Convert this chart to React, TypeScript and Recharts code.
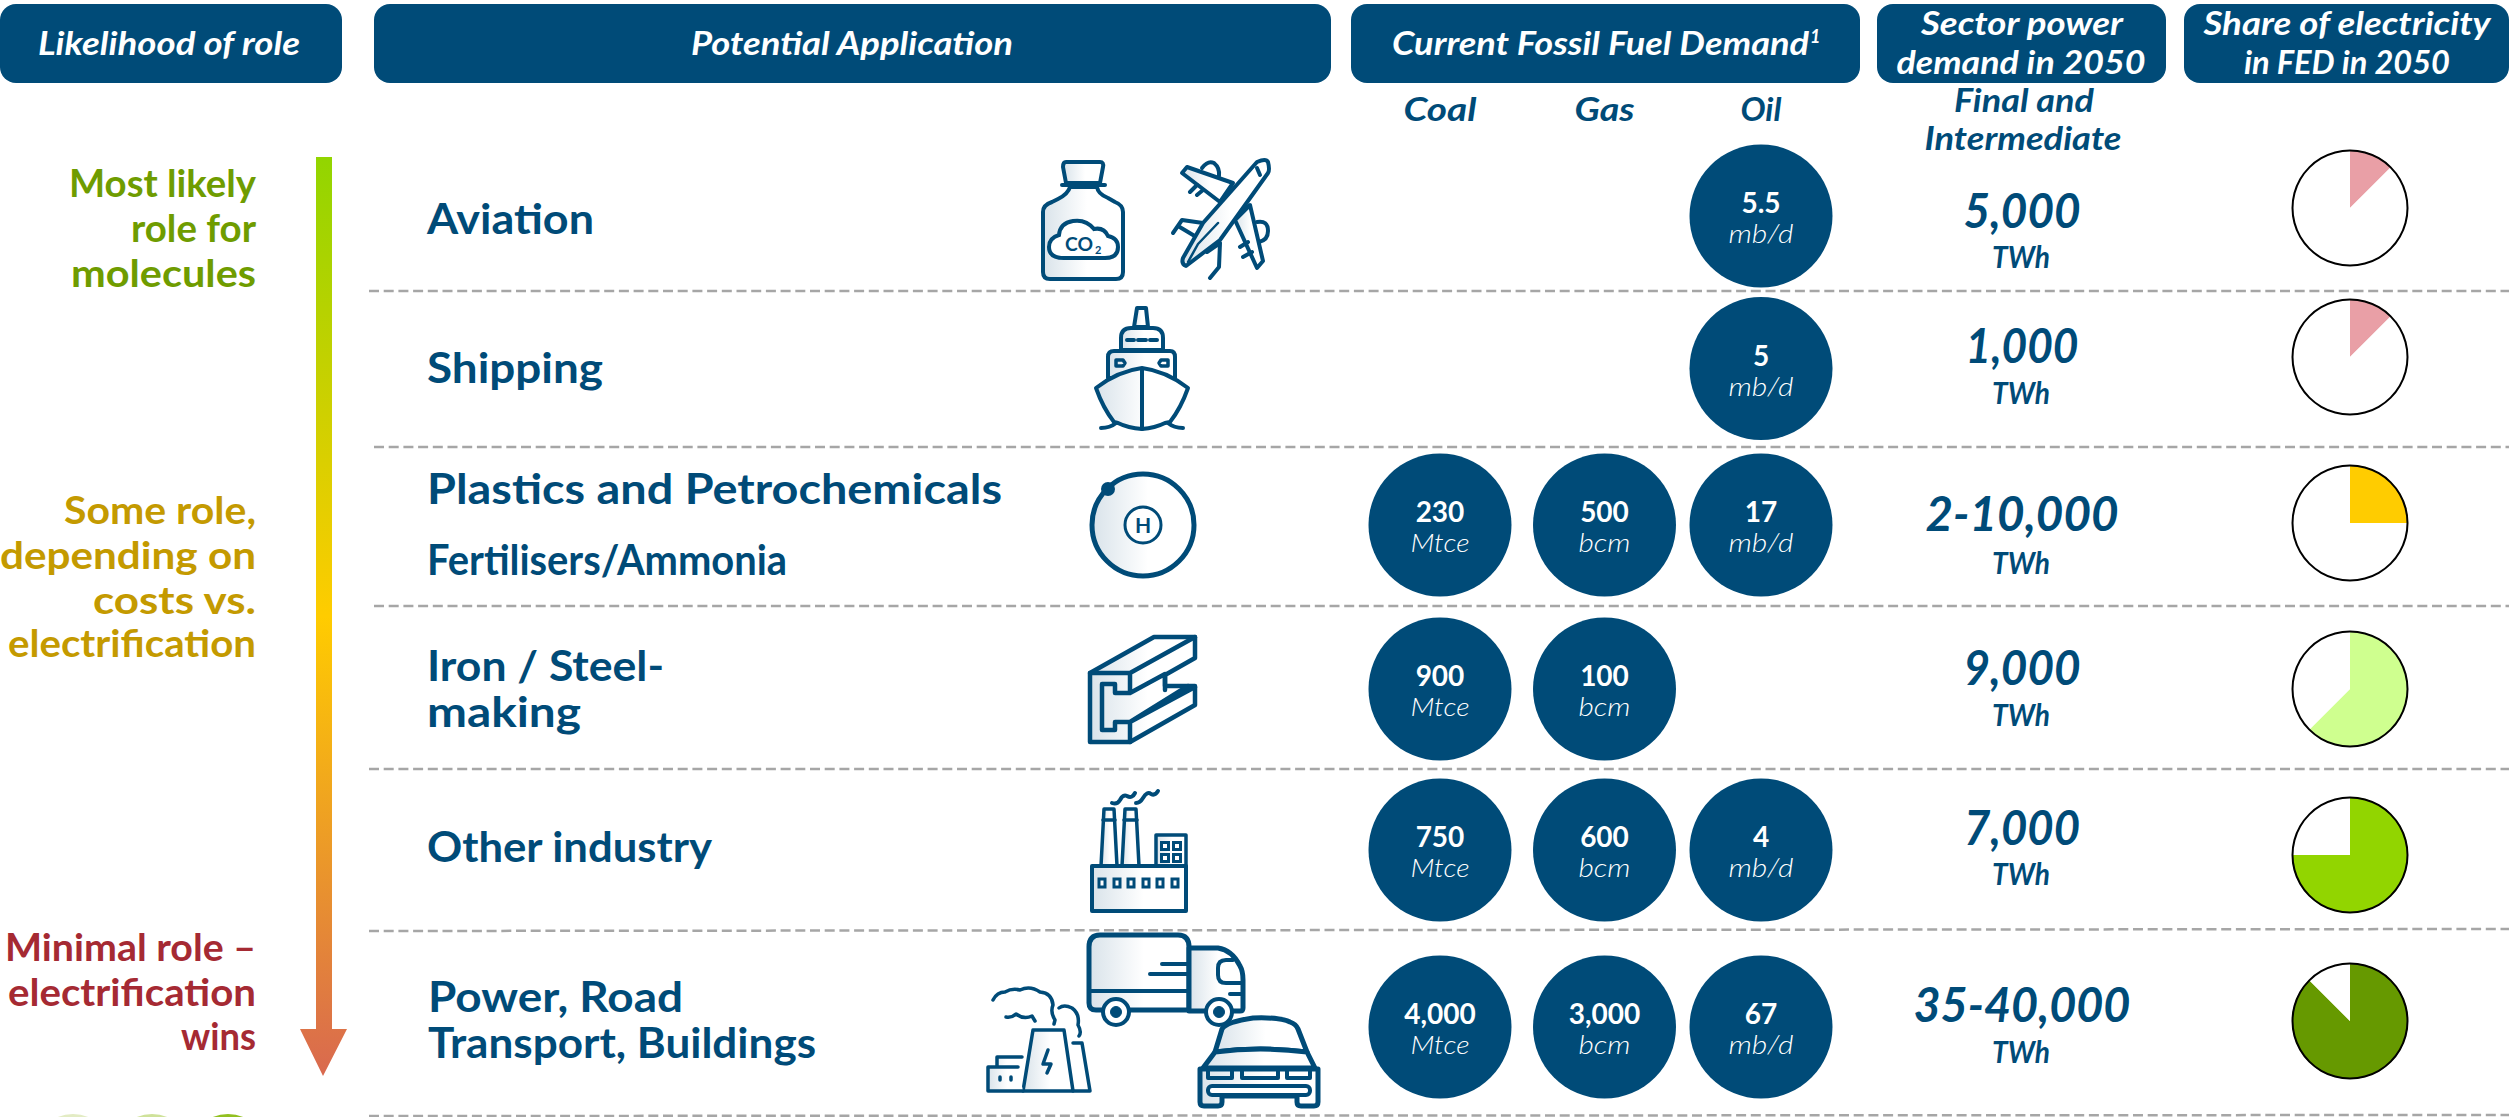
import React from "react";
import { ComposedChart, PieChart, Scatter, Pie, Cell, XAxis, YAxis, ReferenceLine } from "recharts";

const WIDTH = 2509;
const HEIGHT = 1117;
const NAVY = "#004B78";
const FONT = "Lato, 'Open Sans', sans-serif";

// ---- data ----
const applications = ["Aviation", "Shipping", "Plastics and Petrochemicals / Fertilisers/Ammonia", "Iron / Steel-making", "Other industry", "Power, Road Transport, Buildings"];
const fuels = ["Coal", "Gas", "Oil"];
const fuelUnits = ["Mtce", "bcm", "mb/d"];
const coalDemand = ["", "", "230", "900", "750", "4,000"];
const gasDemand = ["", "", "500", "100", "600", "3,000"];
const oilDemand = ["5.5", "5", "17", "", "4", "67"];
const sectorPower = ["5,000", "1,000", "2-10,000", "9,000", "7,000", "35-40,000"];
const electricityShare = [12.5, 12.5, 25, 62.5, 75, 87.5];
const shareColors = ["#E99FA6", "#E99FA6", "#FFCC00", "#CFFF8F", "#92D500", "#669900"];

// ---- layout ----
const fuelX = [1440, 1604.5, 1761];
const fuelLabelW = [73, 60, 41];
const unitW = [59, 52, 65];
const bubbleY = [216, 368.5, 525, 689, 850, 1027];
const sectorY = [228, 363, 531, 685, 845, 1022];
const sectorW = [117, 113, 193, 117, 116, 217];
const twhY = [268, 404, 574, 726, 885, 1063];
const pieX = 2350;
const pieY = [208, 357, 523, 689, 855, 1021];
const dashed = [
  [369, 291, 291],
  [374, 447, 447],
  [374, 606, 606],
  [369, 769, 769],
  [369, 931, 929],
  [369, 1116, 1115],
];

const demandByFuel = [coalDemand, gasDemand, oilDemand];
const bubbles = fuels.flatMap((fuel, f) =>
  applications
    .map((app, r) => ({ fuel, app, x: fuelX[f], y: bubbleY[r], value: demandByFuel[f][r], unit: fuelUnits[f], unitW: unitW[f] }))
    .filter((d) => d.value !== "")
);

// text stretched to the measured width, the original face is much wider than anything installed
function Txt({ x, y, w, size = 38, anchor = "start", fill = NAVY, italic = false, weight = 700, children }: any) {
  return (
    <text
      x={x}
      y={y}
      fontFamily={FONT}
      fontSize={size}
      fontWeight={weight}
      fill={fill}
      textAnchor={anchor}
      fontStyle={italic ? "italic" : "normal"}
      textLength={w}
      lengthAdjust={w ? "spacingAndGlyphs" : undefined}
    >
      {children}
    </text>
  );
}

function Bubble(props: any) {
  const { cx, cy, payload } = props;
  return (
    <g>
      <circle cx={cx} cy={cy} r={71.5} fill={NAVY} />
      <Txt x={cx} y={cy - 3} size={28} anchor="middle" fill="#fff">{payload.value}</Txt>
      <Txt x={cx} y={cy + 27} w={payload.unitW} size={26} anchor="middle" fill="#fff" italic weight={300}>{payload.unit}</Txt>
    </g>
  );
}

function Box({ x, w }: { x: number; w: number }) {
  return <rect x={x} y={4} width={w} height={79} rx={16} fill={NAVY} />;
}

const ic = { fill: "url(#iconFill)", stroke: NAVY, strokeWidth: 4, strokeLinejoin: "round" as const, strokeLinecap: "round" as const };
const il = { fill: "none", stroke: NAVY, strokeWidth: 4, strokeLinejoin: "round" as const, strokeLinecap: "round" as const };

function Bottle() {
  return (
    <g>
      <path d="M1066 162 H1100 Q1104 162 1103 167 L1100 183 H1066 L1063 167 Q1063 162 1066 162Z" {...ic} />
      <path d="M1062 185 H1105" {...il} />
      <path d="M1070 187 Q1068 194 1058 199 L1052 202 Q1043 205 1043 212 V272 Q1043 279 1050 279 H1116 Q1123 279 1123 272 V212 Q1123 205 1115 202 L1108 198 Q1098 194 1097 187Z" {...ic} />
      <path d="M1064 258 H1105 Q1118 258 1118 247 Q1118 238 1108 236 Q1104 227 1094 229 Q1086 219 1073 221 Q1060 223 1059 235 Q1049 238 1049 247 Q1049 258 1064 258Z" fill="#fff" stroke={NAVY} strokeWidth={4} />
      <text x={1065} y={251} textLength={28} lengthAdjust="spacingAndGlyphs" fontFamily={FONT} fontSize={19} fontWeight={700} fill={NAVY}>CO</text>
      <text x={1095} y={254} fontFamily={FONT} fontSize={11} fontWeight={700} fill={NAVY}>2</text>
    </g>
  );
}

function Plane() {
  return (
    <g>
      <path d="M1202 168 Q1208 160 1214 163 Q1220 168 1219 176" {...il} />
      <path d="M1257 222 Q1268 220 1268 231 Q1268 240 1259 242" {...il} />
      <path d="M1182 173 L1187 167 L1233 183 L1220 202Z" {...ic} />
      <path d="M1235 220 L1250 205 L1263 261 L1257 268Z" {...ic} />
      <path d="M1173 233 L1182 220 L1203 223 M1178 226 L1198 238" {...il} />
      <path d="M1207 252 L1220 243 L1219 267 L1210 278" {...il} />
      <path d="M1190 192 L1197 185 M1197 195 L1203 190 M1240 247 L1248 242 M1243 257 L1252 252" {...il} />
      <path d="M1183 258 L1203 223 L1257 162 Q1266 158 1268 162 Q1270 170 1268 173 L1220 240 L1186 266 Q1181 264 1183 258Z" {...ic} />
      <path d="M1188 262 L1198 244 L1218 223" {...il} strokeWidth={2.5} />
      <path d="M1257 168 L1260 175" {...il} />
    </g>
  );
}

function Ship() {
  return (
    <g>
      <path d="M1134 327 L1137 308 H1146 L1148 327Z" {...ic} />
      <path d="M1121 350 V338 Q1121 328 1131 328 H1153 Q1163 328 1163 338 V350Z" {...ic} />
      <path d="M1127 340 H1134 M1138 340 H1146 M1150 340 H1157" {...il} />
      <path d="M1108 378 V357 Q1108 351 1114 351 H1170 Q1175 351 1175 357 V378Z" {...ic} />
      <path d="M1116 360 H1123 L1125 363 L1123 366 H1116Z M1168 360 H1161 L1159 363 L1161 366 H1168Z" {...il} strokeWidth={3.5} />
      <path d="M1096 388 Q1118 371 1142 368 Q1166 371 1188 388 Q1181 408 1170 422 L1165 423 Q1155 428 1142 429 Q1128 428 1118 423 L1114 422 Q1103 408 1096 388Z" {...ic} />
      <path d="M1142 369 V429" {...il} />
      <path d="M1101 428 Q1110 428 1116 423 M1168 423 Q1174 428 1183 428" {...il} />
    </g>
  );
}

function Atom() {
  return (
    <g>
      <circle cx={1143} cy={525} r={51} {...ic} strokeWidth={5} />
      <circle cx={1143} cy={525} r={18} fill="#fff" stroke={NAVY} strokeWidth={3} />
      <circle cx={1108} cy={489} r={7} fill={NAVY} />
      <text x={1143} y={533} textAnchor="middle" fontFamily={FONT} fontSize={21} fontWeight={700} fill={NAVY}>H</text>
    </g>
  );
}

function Beam() {
  return (
    <g>
      <path d="M1090 673 L1154 637 H1195 V658 L1165 675 V686 H1195 V705 L1130 742 H1090Z" {...ic} strokeWidth={4.5} />
      <path
        d="M1090 673 H1130 L1195 637 M1130 673 V693 M1102 684 H1115 V693 H1130 L1165 674 M1102 684 V730 H1115 V722 H1130 L1188 686 M1130 722 L1195 687 M1130 722 V742 M1165 675 V690"
        {...il}
        strokeWidth={4.5}
      />
    </g>
  );
}

function Factory() {
  return (
    <g>
      <path d="M1101 866 L1104 809 H1114 L1117 866Z" {...ic} strokeWidth={3.5} />
      <path d="M1122 866 L1125 809 H1136 L1139 866Z" {...ic} strokeWidth={3.5} />
      <path d="M1103 820 H1115 M1124 820 H1137" {...il} strokeWidth={3.5} />
      <path d="M1112 803 Q1117 805 1120 800 Q1123 794 1127 796 Q1132 799 1135 793" {...il} />
      <path d="M1136 803 Q1140 803 1143 798 Q1147 791 1151 794 Q1155 796 1158 791" {...il} />
      <rect x={1156} y={835} width={30} height={32} {...ic} strokeWidth={3.5} />
      {[1165, 1177].flatMap((x) =>
        [846, 858].map((y) => <rect key={x + "-" + y} x={x - 3.5} y={y - 3.5} width={7} height={7} fill="#fff" stroke={NAVY} strokeWidth={3} />)
      )}
      <rect x={1092} y={866} width={94} height={45} {...ic} />
      {[1102, 1117, 1131, 1146, 1160, 1175].map((x) => (
        <rect key={x} x={x - 3} y={879} width={6} height={8} fill="#fff" stroke={NAVY} strokeWidth={3} />
      ))}
    </g>
  );
}

function Truck() {
  return (
    <g>
      <path d="M1089 947 Q1089 935 1100 935 H1178 Q1189 935 1189 947 V1010 H1096 Q1089 1010 1089 1003Z" {...ic} strokeWidth={5} />
      <path d="M1189 948 H1218 Q1232 950 1240 966 Q1243 971 1243 980 V1008 Q1243 1011 1240 1011 H1189Z" {...ic} strokeWidth={5} />
      <path d="M1089 991 H1189 M1162 964 H1187 M1150 974 H1187 M1230 994 H1242" {...il} strokeWidth={4} />
      <path d="M1233 960 H1226 Q1218 960 1218 968 V975 Q1218 983 1226 983 H1242" {...il} strokeWidth={4} />
      <circle cx={1116} cy={1012} r={13} fill="#fff" stroke={NAVY} strokeWidth={4} />
      <circle cx={1116} cy={1012} r={5.5} fill={NAVY} stroke={NAVY} strokeWidth={1} />
      <circle cx={1219} cy={1012} r={13} fill="#fff" stroke={NAVY} strokeWidth={4} />
      <circle cx={1219} cy={1012} r={5.5} fill={NAVY} stroke={NAVY} strokeWidth={1} />
    </g>
  );
}

function PowerPlant() {
  return (
    <g>
      <path d="M993 1000 Q997 992 1005 992 Q1012 988 1020 990 Q1030 985 1040 992 Q1052 993 1053 1005 Q1050 1012 1055 1020 L1054 1024" {...il} strokeWidth={3.5} />
      <path d="M1006 1017 Q1012 1018 1016 1014 Q1024 1020 1032 1016 L1035 1021" {...il} strokeWidth={3.5} />
      <path d="M1059 1008 Q1064 1004 1072 1008 Q1080 1014 1078 1025 Q1082 1032 1079 1036" {...il} strokeWidth={3.5} />
      <path d="M1023 1091 L1033 1030 H1064 L1073 1091Z" {...ic} strokeWidth={3.5} />
      <path d="M1073 1091 H1090 L1082 1043 H1073" {...il} strokeWidth={3.5} />
      <path d="M1048 1050 L1043 1064 H1051 L1047 1073" {...il} strokeWidth={3.5} />
      <path d="M1022 1057 H997 V1067 M1018 1067 H988 V1091 H1023" {...ic} strokeWidth={3.5} />
      <path d="M1000 1077 V1080 M1011 1077 V1080" {...il} strokeWidth={3.5} />
    </g>
  );
}

function Car() {
  return (
    <g>
      <path d="M1215 1052 L1222 1029 Q1226 1022 1253 1018 Q1280 1017 1290 1022 Q1296 1024 1298 1029 L1307 1052 Q1260 1046 1215 1052Z" {...ic} strokeWidth={5} />
      <path d="M1203 1068 L1215 1052 Q1260 1046 1307 1052 L1315 1068Z" {...ic} strokeWidth={5} />
      <path d="M1200 1069 V1102 Q1200 1106 1204 1106 H1218 Q1222 1106 1222 1102 V1096 H1297 V1102 Q1297 1106 1301 1106 H1314 Q1318 1106 1318 1102 V1069Z" {...ic} strokeWidth={5} />
      <rect x={1208} y={1069} width={24} height={9} {...il} />
      <rect x={1242} y={1069} width={36} height={9} {...il} />
      <rect x={1287} y={1069} width={23} height={9} {...il} />
      <rect x={1208} y={1086} width={102} height={9} rx={4} fill="#fff" stroke={NAVY} strokeWidth={4} />
    </g>
  );
}

export default function App() {
  return (
    <div style={{ position: "absolute", left: 0, top: 0, width: WIDTH, height: HEIGHT, background: "#fff", overflow: "hidden" }}>
      <ComposedChart width={WIDTH} height={HEIGHT} margin={{ top: 0, right: 0, bottom: 0, left: 0 }} data={bubbles}>
        <defs>
          <linearGradient id="arrowFill" x1="0" y1="157" x2="0" y2="1076" gradientUnits="userSpaceOnUse">
            <stop offset="0" stopColor="#92D500" />
            <stop offset="0.5" stopColor="#FFCC00" />
            <stop offset="1" stopColor="#D9694F" />
          </linearGradient>
          <linearGradient id="iconFill" x1="0" y1="0" x2="1" y2="0">
            <stop offset="0" stopColor="#D9E3EA" />
            <stop offset="0.55" stopColor="#FFFFFF" />
            <stop offset="1" stopColor="#FFFFFF" />
          </linearGradient>
        </defs>
        <XAxis type="number" dataKey="x" domain={[0, WIDTH]} hide />
        <YAxis type="number" dataKey="y" domain={[0, HEIGHT]} reversed hide />

        {dashed.map(([x, y1, y2]) => (
          <ReferenceLine key={y1} segment={[{ x, y: y1 }, { x: WIDTH, y: y2 }]} stroke="#A6A6A6" strokeWidth={2.5} strokeDasharray="10 4.7" />
        ))}

        <Box x={0} w={342} />
        <Box x={374} w={957} />
        <Box x={1351} w={509} />
        <Box x={1877} w={289} />
        <Box x={2184} w={325} />
        <Txt x={169} y={55} w={262} size={32} anchor="middle" fill="#fff" italic>Likelihood of role</Txt>
        <Txt x={852} y={55} w={322} size={32} anchor="middle" fill="#fff" italic>Potential Application</Txt>
        <Txt x={1392} y={55} w={417} size={32} fill="#fff" italic>Current Fossil Fuel Demand</Txt>
        <Txt x={1810} y={43} size={18} fill="#fff" italic>1</Txt>
        <Txt x={2022} y={35} w={202} size={32} anchor="middle" fill="#fff" italic>Sector power</Txt>
        <Txt x={2021} y={74} w={249} size={32} anchor="middle" fill="#fff" italic>demand in 2050</Txt>
        <Txt x={2347} y={35} w={287} size={32} anchor="middle" fill="#fff" italic>Share of electricity</Txt>
        <Txt x={2347} y={74} w={206} size={32} anchor="middle" fill="#fff" italic>in FED in 2050</Txt>

        {fuels.map((f, i) => (
          <Txt key={f} x={fuelX[i]} y={121} w={fuelLabelW[i]} size={32} anchor="middle" italic>{f}</Txt>
        ))}
        <Txt x={2024} y={112} w={140} size={32} anchor="middle" italic>Final and</Txt>
        <Txt x={2023} y={150} w={197} size={32} anchor="middle" italic>Intermediate</Txt>

        <path d="M316 157 H332 V1029 H347 L323 1076 L300 1029 H316Z" fill="url(#arrowFill)" />

        <Txt x={256} y={197} w={187} anchor="end" fill="#6F9C00">Most likely</Txt>
        <Txt x={256} y={242} w={125} anchor="end" fill="#6F9C00">role for</Txt>
        <Txt x={256} y={287} w={185} anchor="end" fill="#6F9C00">molecules</Txt>
        <Txt x={256} y={524} w={192} anchor="end" fill="#C49A00">Some role,</Txt>
        <Txt x={256} y={569} w={256} anchor="end" fill="#C49A00">depending on</Txt>
        <Txt x={256} y={614} w={163} anchor="end" fill="#C49A00">costs vs.</Txt>
        <Txt x={256} y={657} w={248} anchor="end" fill="#C49A00">electrification</Txt>
        <Txt x={256} y={961} w={251} anchor="end" fill="#A52A33">Minimal role –</Txt>
        <Txt x={256} y={1006} w={248} anchor="end" fill="#A52A33">electrification</Txt>
        <Txt x={256} y={1050} w={75} anchor="end" fill="#A52A33">wins</Txt>

        <Txt x={427} y={234} w={167} size={42}>Aviation</Txt>
        <Txt x={427} y={383} w={176} size={42}>Shipping</Txt>
        <Txt x={427} y={504} w={575} size={42}>Plastics and Petrochemicals</Txt>
        <Txt x={427} y={575} w={360} size={42}>Fertilisers/Ammonia</Txt>
        <Txt x={427} y={681} w={237} size={42}>Iron / Steel-</Txt>
        <Txt x={427} y={727} w={154} size={42}>making</Txt>
        <Txt x={427} y={862} w={285} size={42}>Other industry</Txt>
        <Txt x={428} y={1012} w={255} size={42}>Power, Road</Txt>
        <Txt x={428} y={1058} w={388} size={42}>Transport, Buildings</Txt>

        <Bottle />
        <Plane />
        <Ship />
        <Atom />
        <Beam />
        <Factory />
        <Truck />
        <PowerPlant />
        <Car />

        <Scatter dataKey="y" data={bubbles} isAnimationActive={false} shape={<Bubble />} />

        {sectorPower.map((s, i) => (
          <g key={s}>
            <Txt x={2022} y={sectorY[i]} w={sectorW[i]} size={47} anchor="middle" italic>{s}</Txt>
            <Txt x={2021} y={twhY[i]} w={58} size={30} anchor="middle" italic>TWh</Txt>
          </g>
        ))}

        <ellipse cx={73} cy={1154} rx={40} ry={40} fill="#E3ECC4" />
        <ellipse cx={152} cy={1154} rx={40} ry={40} fill="#CFE29A" />
        <ellipse cx={228} cy={1154} rx={40} ry={40} fill="#92C020" />
      </ComposedChart>

      <div style={{ position: "absolute", left: 0, top: 0 }}>
        <PieChart width={WIDTH} height={HEIGHT} margin={{ top: 0, right: 0, bottom: 0, left: 0 }}>
          {electricityShare.map((share, i) => (
            <Pie
              key={i}
              data={[{ name: applications[i], value: share }, { name: "other", value: 100 - share }]}
              dataKey="value"
              cx={pieX}
              cy={pieY[i]}
              outerRadius={58}
              startAngle={90}
              endAngle={-270}
              stroke="none"
              isAnimationActive={false}
            >
              <Cell fill={shareColors[i]} />
              <Cell fill="#FFFFFF" />
            </Pie>
          ))}
          {electricityShare.map((_, i) => (
            <Pie
              key={"ring" + i}
              data={[{ value: 1 }]}
              dataKey="value"
              cx={pieX}
              cy={pieY[i]}
              innerRadius={56.5}
              outerRadius={58.5}
              fill="#000"
              stroke="none"
              isAnimationActive={false}
            />
          ))}
        </PieChart>
      </div>
    </div>
  );
}
